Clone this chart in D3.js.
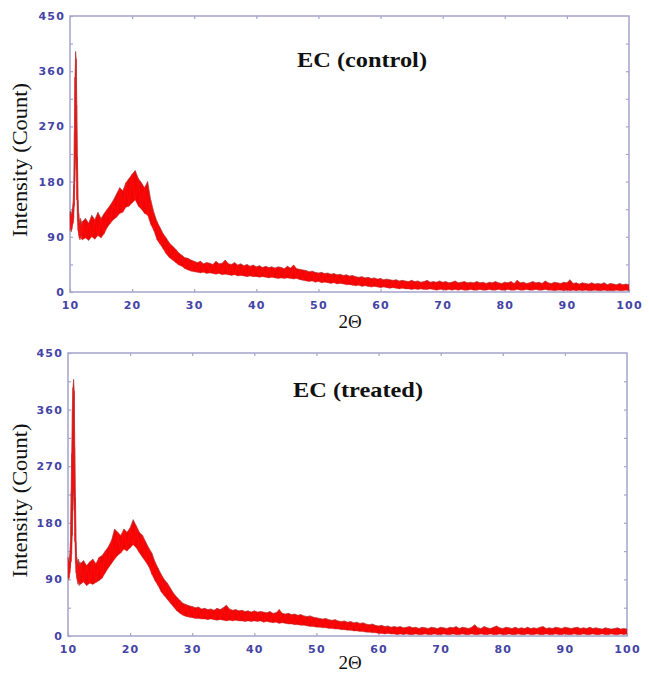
<!DOCTYPE html>
<html><head><meta charset="utf-8">
<script src="https://cdn.jsdelivr.net/npm/d3@7"></script>
<style>html,body{margin:0;padding:0;background:#fff;}svg{display:block;}</style>
</head><body>
<svg id="chart" width="649" height="674"></svg>
<script>
// ---- data: [2θ, lower edge of noisy trace, upper edge of noisy trace] ----
const controlPattern = [
[10.0,100,128],[10.1,104,132],[10.2,98,125],[10.3,102,130],[10.4,108,136],[10.5,112,145],[10.6,120,175],[10.7,140,260],[10.8,180,350],[10.9,220,392],
[11.0,200,380],[11.1,150,305],[11.2,115,220],[11.3,100,150],[11.4,92,128],[11.5,88,118],[11.6,85,112],[11.7,88,120],[11.8,92,115],[11.9,86,110],
[12.0,85,115],[12.5,88,120],[13.0,84,112],[13.5,90,125],[14.0,86,118],[14.5,92,130],[15.0,88,120],[15.5,95,128],[16.0,105,135],[16.5,112,142],
[17.0,118,150],[17.5,122,160],[18.0,128,170],[18.5,130,165],[19.0,138,178],[19.5,140,185],[20.0,145,192],[20.5,150,198],[21.0,140,185],[21.5,135,178],
[22.0,128,170],[22.5,125,180],[23.0,110,150],[23.5,100,130],[24.0,85,115],[24.5,78,105],[25.0,70,95],[25.5,62,88],[26.0,56,80],[26.5,52,75],
[27.0,48,70],[27.5,44,64],[28.0,42,60],[28.5,38,56],[29.0,36,55],[29.5,34,52],[30.0,33,50],[30.5,32,48],[31.0,31,50],[31.5,32,46],
[32.0,30,48],[32.5,31,47],[33.0,30,45],[33.5,29,50],[34.0,30,46],[34.5,28,47],[35.0,29,52],[35.5,28,46],[36.0,27,45],[36.5,28,48],
[37.0,26,44],[37.5,27,46],[38.0,26,43],[38.5,25,45],[39.0,26,42],[39.5,25,44],[40.0,25,41],[40.5,24,43],[41.0,25,40],[41.5,24,42],
[42.0,23,40],[42.5,24,41],[43.0,23,39],[43.5,22,41],[44.0,23,40],[44.5,22,38],[45.0,23,42],[45.5,22,39],[46.0,21,44],[46.5,22,38],
[47.0,20,37],[47.5,19,36],[48.0,18,35],[48.5,17,33],[49.0,18,34],[49.5,16,32],[50.0,17,31],[50.5,15,32],[51.0,16,30],[51.5,15,31],
[52.0,14,29],[52.5,15,30],[53.0,13,28],[53.5,14,29],[54.0,13,27],[54.5,12,28],[55.0,12,26],[55.5,11,27],[56.0,10,25],[56.5,11,24],
[57.0,9,25],[57.5,10,23],[58.0,9,24],[58.5,8,22],[59.0,9,23],[59.5,8,21],[60.0,7,22],[60.5,8,20],[61.0,7,21],[61.5,6,20],
[62.0,7,19],[62.5,6,20],[63.0,5,18],[63.5,6,19],[64.0,5,18],[64.5,5,17],[65.0,4,19],[65.5,5,17],[66.0,4,18],[66.5,5,16],
[67.0,4,17],[67.5,4,19],[68.0,5,16],[68.5,4,17],[69.0,3,16],[69.5,4,18],[70.0,4,16],[70.5,3,17],[71.0,4,15],[71.5,3,16],
[72.0,4,18],[72.5,3,15],[73.0,4,16],[73.5,3,17],[74.0,3,15],[74.5,4,16],[75.0,3,15],[75.5,3,17],[76.0,4,15],[76.5,3,16],
[77.0,3,14],[77.5,4,16],[78.0,3,15],[78.5,3,17],[79.0,4,15],[79.5,3,14],[80.0,3,16],[80.5,4,15],[81.0,3,17],[81.5,3,14],
[82.0,4,19],[82.5,3,15],[83.0,3,16],[83.5,4,14],[84.0,3,15],[84.5,3,17],[85.0,4,15],[85.5,3,16],[86.0,3,14],[86.5,4,18],
[87.0,3,15],[87.5,3,14],[88.0,2,16],[88.5,3,15],[89.0,3,14],[89.5,2,16],[90.0,3,15],[90.5,2,20],[91.0,3,14],[91.5,2,15],
[92.0,3,13],[92.5,2,15],[93.0,3,14],[93.5,2,13],[94.0,2,15],[94.5,3,13],[95.0,2,14],[95.5,2,13],[96.0,3,15],[96.5,2,12],
[97.0,2,14],[97.5,2,13],[98.0,3,12],[98.5,2,14],[99.0,2,12],[99.5,3,13],[100.0,2,12]
];
const treatedPattern = [
[10.0,95,125],[10.1,90,120],[10.2,92,118],[10.3,100,130],[10.4,108,150],[10.5,118,230],[10.6,130,290],[10.7,160,360],[10.8,200,395],[10.9,230,408],
[11.0,200,390],[11.1,150,300],[11.2,115,220],[11.3,100,150],[11.4,92,125],[11.5,88,120],[11.6,82,115],[11.7,86,122],[11.8,80,112],[11.9,84,118],
[12.0,82,115],[12.5,86,120],[13.0,80,112],[13.5,84,118],[14.0,82,122],[14.5,85,115],[15.0,88,125],[15.5,92,128],[16.0,100,135],[16.5,108,142],
[17.0,115,152],[17.5,122,170],[18.0,128,165],[18.5,132,160],[19.0,138,170],[19.5,135,165],[20.0,140,172],[20.5,145,185],[21.0,140,175],[21.5,132,165],
[22.0,125,160],[22.5,118,150],[23.0,110,140],[23.5,98,132],[24.0,88,118],[24.5,80,108],[25.0,70,98],[25.5,64,90],[26.0,58,84],[26.5,52,76],
[27.0,46,68],[27.5,40,62],[28.0,36,57],[28.5,33,52],[29.0,31,50],[29.5,30,48],[30.0,29,47],[30.5,28,45],[31.0,28,46],[31.5,27,43],
[32.0,27,44],[32.5,26,42],[33.0,27,43],[33.5,26,41],[34.0,25,44],[34.5,26,42],[35.0,25,45],[35.5,24,49],[36.0,25,43],[36.5,24,41],
[37.0,25,42],[37.5,24,40],[38.0,24,41],[38.5,23,39],[39.0,24,40],[39.5,23,38],[40.0,24,40],[40.5,23,38],[41.0,24,39],[41.5,22,38],
[42.0,23,37],[42.5,22,39],[43.0,21,36],[43.5,22,37],[44.0,20,42],[44.5,21,36],[45.0,20,35],[45.5,19,36],[46.0,19,34],[46.5,18,35],
[47.0,18,33],[47.5,17,34],[48.0,17,32],[48.5,16,31],[49.0,15,32],[49.5,15,30],[50.0,14,29],[50.5,14,28],[51.0,13,27],[51.5,13,28],
[52.0,12,26],[52.5,12,25],[53.0,11,26],[53.5,11,24],[54.0,10,23],[54.5,10,24],[55.0,9,22],[55.5,9,23],[56.0,8,21],[56.5,8,22],
[57.0,7,20],[57.5,7,21],[58.0,6,19],[58.5,6,18],[59.0,5,19],[59.5,5,17],[60.0,4,16],[60.5,4,17],[61.0,3,15],[61.5,4,16],
[62.0,3,14],[62.5,3,15],[63.0,2,14],[63.5,3,15],[64.0,2,13],[64.5,3,14],[65.0,2,15],[65.5,2,13],[66.0,3,14],[66.5,2,12],
[67.0,2,14],[67.5,3,13],[68.0,2,12],[68.5,2,14],[69.0,3,13],[69.5,2,12],[70.0,2,14],[70.5,3,13],[71.0,2,12],[71.5,2,14],
[72.0,3,13],[72.5,2,15],[73.0,2,12],[73.5,3,14],[74.0,2,13],[74.5,2,12],[75.0,3,14],[75.5,2,18],[76.0,2,13],[76.5,3,12],
[77.0,2,15],[77.5,2,13],[78.0,3,12],[78.5,2,14],[79.0,2,16],[79.5,3,13],[80.0,2,12],[80.5,2,14],[81.0,3,13],[81.5,2,12],
[82.0,2,14],[82.5,3,12],[83.0,2,13],[83.5,2,12],[84.0,3,14],[84.5,2,12],[85.0,2,13],[85.5,3,12],[86.0,2,14],[86.5,2,15],
[87.0,3,12],[87.5,2,13],[88.0,2,12],[88.5,3,14],[89.0,2,13],[89.5,2,12],[90.0,3,14],[90.5,2,13],[91.0,2,12],[91.5,3,13],
[92.0,2,14],[92.5,2,12],[93.0,3,13],[93.5,2,12],[94.0,2,14],[94.5,3,12],[95.0,2,13],[95.5,2,12],[96.0,3,11],[96.5,2,13],
[97.0,2,12],[97.5,3,11],[98.0,2,12],[98.5,2,13],[99.0,3,11],[99.5,2,12],[100.0,3,11]
];
const xTicks = [10,20,30,40,50,60,70,80,90,100];
const yTicks = [0,90,180,270,360,450];
const yMinorTicks = [45,135,225,315,405];
const titles = ["EC (control)", "EC (treated)"];
const xLabel = "2Θ";
const yLabel = "Intensity (Count)";

// ---- layout ----
const panels = [
  {data: controlPattern, title: titles[0], left: 70, right: 629, top: 16, bottom: 292, titleX: 297, titleY: 67, yLabX: 27, xLabY: 328},
  {data: treatedPattern, title: titles[1], left: 68, right: 627, top: 353, bottom: 636, titleX: 293, titleY: 397, yLabX: 27, xLabY: 669}
];
const svg = d3.select("#chart");
const frameColor = "#a4a4cc";
const tickColor = "#4444a4";

panels.forEach(p => {
  const x = d3.scaleLinear().domain([10,100]).range([p.left, p.right]);
  const y = d3.scaleLinear().domain([0,450]).range([p.bottom, p.top]);
  const g = svg.append("g");

  const tl = 3;
  const bottomAx = g.append("g").attr("transform", `translate(0,${p.bottom})`)
    .call(d3.axisBottom(x).tickValues(xTicks).tickSize(-tl).tickFormat(d3.format("d")).tickPadding(9));
  const topAx = g.append("g").attr("transform", `translate(0,${p.top})`)
    .call(d3.axisTop(x).tickValues(xTicks.slice(1,-1)).tickSize(-tl).tickFormat(""));
  const leftAx = g.append("g").attr("transform", `translate(${p.left},0)`)
    .call(d3.axisLeft(y).tickValues(yTicks).tickSize(-tl).tickFormat(d3.format("d")).tickPadding(5));
  const leftMinor = g.append("g").attr("transform", `translate(${p.left},0)`)
    .call(d3.axisLeft(y).tickValues(yMinorTicks).tickSize(-tl).tickFormat(""));
  const rightAx = g.append("g").attr("transform", `translate(${p.right},0)`)
    .call(d3.axisRight(y).tickValues(yTicks.slice(1,-1).concat(yMinorTicks)).tickSize(-tl).tickFormat(""));
  [bottomAx, topAx, leftAx, leftMinor, rightAx].forEach(a => {
    a.select(".domain").remove();
    a.selectAll(".tick line").attr("stroke", frameColor).attr("stroke-width", 1.2);
    a.selectAll("text").attr("fill", tickColor).attr("font-family", "DejaVu Sans, Verdana, sans-serif")
      .attr("font-weight", "bold").attr("font-size", 11).attr("letter-spacing", 1.2);
  });

  g.append("rect").attr("x", p.left).attr("y", p.top)
    .attr("width", p.right - p.left).attr("height", p.bottom - p.top)
    .attr("fill", "none").attr("stroke", frameColor).attr("stroke-width", 1.5);

  // noisy trace: red band between edges, dark jagged texture
  const area = d3.area().x(d => x(d[0])).y0(d => y(d[1])).y1(d => y(d[2]));
  const hiLine = d3.line().x(d => x(d[0])).y(d => y(d[2]));
  const loLine = d3.line().x(d => x(d[0])).y(d => y(d[1]));
  const zig = d3.line().x(d => x(d[0])).y((d,i) => y(i % 2 ? d[2] : d[1]));
  const zig2 = d3.line().x(d => x(d[0])).y((d,i) => y(i % 2 ? d[1] : d[2]));
  g.append("path").datum(p.data).attr("d", area).attr("fill", "#ff0000").attr("stroke", "none");
  g.append("path").datum(p.data).attr("d", zig).attr("fill", "none")
    .attr("stroke", "#9a2a2a").attr("stroke-width", 0.5).attr("opacity", 0.55);
  g.append("path").datum(p.data).attr("d", zig2).attr("fill", "none")
    .attr("stroke", "#ff1010").attr("stroke-width", 0.8).attr("opacity", 0.8);
  g.append("path").datum(p.data).attr("d", hiLine).attr("fill", "none").attr("stroke", "#a84040").attr("stroke-width", 0.8).attr("opacity", 0.85);
  g.append("path").datum(p.data).attr("d", loLine).attr("fill", "none").attr("stroke", "#b04040").attr("stroke-width", 0.6).attr("opacity", 0.6);

  g.append("text").attr("x", p.titleX).attr("y", p.titleY).text(p.title)
    .attr("font-family", "Liberation Serif, Times New Roman, serif").attr("font-weight", "bold")
    .attr("font-size", 22).attr("fill", "#111")
    .attr("textLength", 130).attr("lengthAdjust", "spacingAndGlyphs");

  g.append("text").attr("x", 350).attr("y", p.xLabY).attr("text-anchor", "middle")
    .attr("font-family", "Liberation Serif, Times New Roman, serif").attr("font-size", 19).attr("fill", "#111")
    .text(xLabel);
  const cy = (p.top + p.bottom)/2 + 6;
  g.append("text").attr("transform", `translate(${p.yLabX},${cy}) rotate(-90)`).attr("text-anchor", "middle")
    .attr("font-family", "Liberation Serif, Times New Roman, serif").attr("font-size", 20).attr("fill", "#111")
    .attr("textLength", 154).attr("lengthAdjust", "spacingAndGlyphs")
    .text(yLabel);
});
</script>
</body></html>
